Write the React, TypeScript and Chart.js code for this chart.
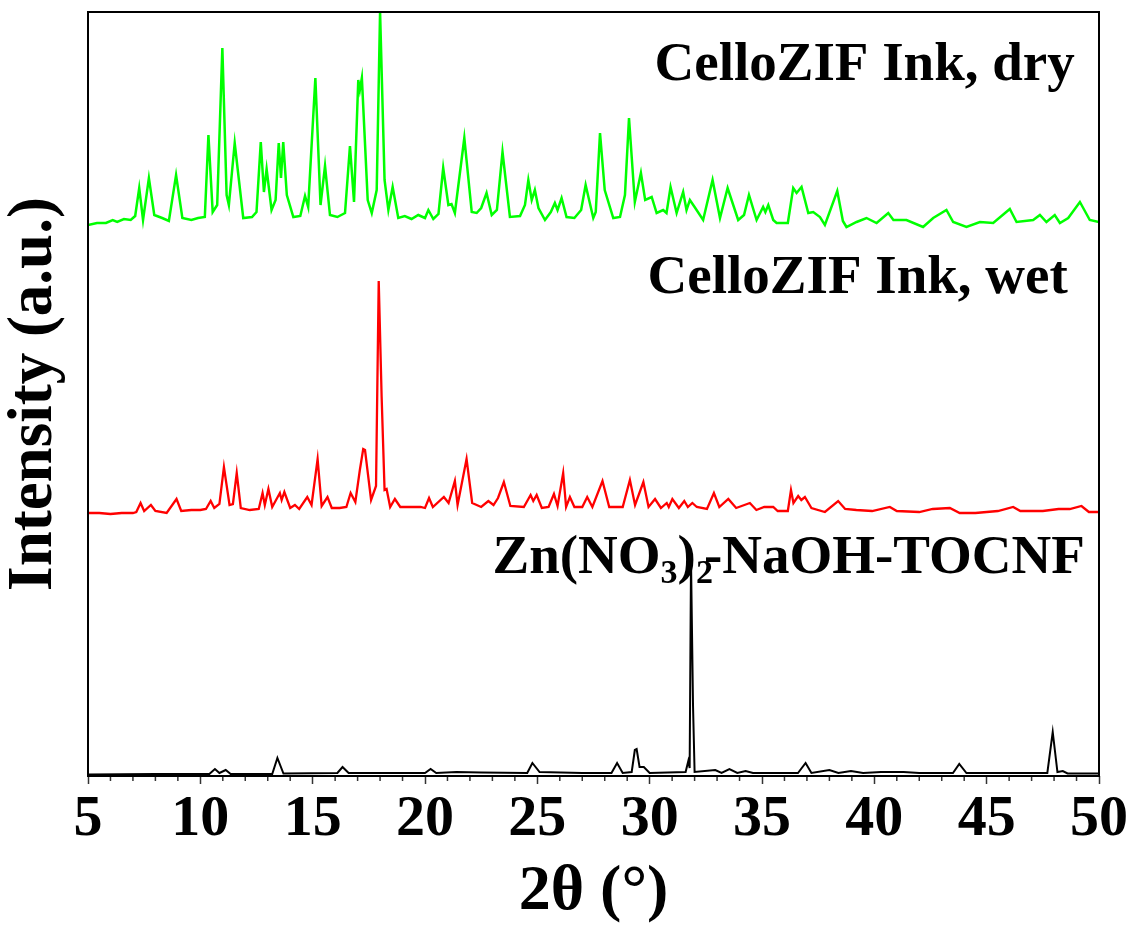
import React, { useEffect, useRef } from 'react';
import { Chart, registerables } from 'chart.js';

Chart.register(...registerables);

const FONT = "'Liberation Serif', 'Times New Roman', Times, serif";

// ---- axis ----
const X_MIN = 5;
const X_MAX = 50;
const X_MAJOR_TICKS = [5, 10, 15, 20, 25, 30, 35, 40, 45, 50];
const X_MINOR_TICKS = [6, 7, 8, 9, 11, 12, 13, 14, 16, 17, 18, 19, 21, 22, 23, 24, 26, 27, 28, 29, 31, 32, 33, 34, 36, 37, 38, 39, 41, 42, 43, 44, 46, 47, 48, 49];
const Y_MIN = 0;
const Y_MAX = 764;
const X_TITLE = '2θ (°)';
const Y_TITLE = 'Intensity (a.u.)';

// ---- series: CelloZIF Ink, dry (green) ----
const DRY_OFFSET = 540;
const DRY_2THETA = [5.0, 5.4, 5.8, 6.1, 6.3, 6.6, 6.9, 7.1, 7.28, 7.45,
  7.71, 7.95, 8.3, 8.6, 8.92, 9.2, 9.6, 9.9, 10.2, 10.36,
  10.55, 10.75, 10.98, 11.17, 11.27, 11.53, 11.91, 12.3, 12.5, 12.69,
  12.83, 12.95, 13.17, 13.35, 13.49, 13.59, 13.69, 13.85, 14.14, 14.45,
  14.66, 14.8, 15.12, 15.35, 15.55, 15.77, 16.1, 16.44, 16.66, 16.84,
  17.03, 17.1, 17.19, 17.45, 17.63, 17.85, 18.0, 18.2, 18.37, 18.56,
  18.81, 19.1, 19.4, 19.7, 20.0, 20.15, 20.37, 20.6, 20.81, 21.04,
  21.18, 21.33, 21.75, 22.08, 22.3, 22.5, 22.74, 22.97, 23.2, 23.45,
  23.78, 24.23, 24.45, 24.6, 24.75, 24.89, 25.05, 25.34, 25.6, 25.78,
  25.9, 26.08, 26.3, 26.65, 26.95, 27.15, 27.49, 27.6, 27.79, 28.0,
  28.38, 28.68, 28.9, 29.08, 29.34, 29.61, 29.8, 30.09, 30.31, 30.6,
  30.75, 30.93, 31.2, 31.49, 31.64, 31.79, 32.0, 32.38, 32.8, 33.13,
  33.47, 33.94, 34.2, 34.42, 34.76, 35.05, 35.15, 35.28, 35.5, 35.65,
  36.15, 36.39, 36.54, 36.76, 37.06, 37.28, 37.58, 37.8, 38.35, 38.6,
  38.76, 39.21, 39.65, 40.1, 40.62, 40.85, 41.43, 42.17, 42.62, 43.21,
  43.51, 44.1, 44.7, 45.29, 46.03, 46.33, 47.07, 47.37, 47.66, 48.03,
  48.26, 48.63, 49.15, 49.59, 50.0];
const DRY_INTENSITY = [11, 13, 13, 16, 14, 17, 16, 20, 48, 16,
  58, 21, 18, 15, 61, 18, 16, 18, 19, 101,
  24, 31, 188, 41, 31, 93, 18, 19, 24, 94,
  44, 67, 26, 36, 93, 58, 94, 41, 19, 20,
  40, 29, 158, 31, 70, 21, 19, 23, 90, 34,
  156, 146, 158, 36, 23, 46, 224, 56, 26, 49,
  18, 20, 17, 21, 18, 26, 17, 22, 68, 31,
  32, 23, 98, 24, 23, 28, 43, 21, 26, 84,
  19, 20, 31, 56, 36, 46, 28, 16, 24, 33,
  26, 38, 19, 18, 26, 51, 18, 24, 103, 46,
  18, 19, 41, 118, 34, 63, 36, 39, 23, 26,
  23, 49, 23, 44, 26, 36, 29, 16, 56, 18,
  48, 16, 21, 41, 16, 29, 24, 31, 16, 13,
  13, 48, 43, 49, 23, 24, 19, 11, 45, 15,
  9, 14, 18, 13, 23, 16, 16, 9, 18, 26,
  14, 9, 14, 13, 27, 14, 16, 21, 14, 21,
  13, 18, 34, 16, 14];

// ---- series: CelloZIF Ink, wet (red) ----
const WET_OFFSET = 250;
const WET_2THETA = [5.0, 5.5, 6.0, 6.5, 7.0, 7.15, 7.34, 7.5, 7.8, 8.0,
  8.5, 8.94, 9.15, 9.6, 10.0, 10.25, 10.46, 10.62, 10.85, 11.05,
  11.3, 11.45, 11.62, 11.8, 12.2, 12.6, 12.77, 12.87, 13.03, 13.2,
  13.54, 13.62, 13.74, 14.0, 14.21, 14.4, 14.76, 14.95, 15.22, 15.4,
  15.66, 15.85, 16.2, 16.5, 16.69, 16.9, 17.1, 17.25, 17.33, 17.6,
  17.82, 17.94, 18.07, 18.2, 18.29, 18.45, 18.66, 18.9, 19.3, 19.8,
  20.0, 20.18, 20.35, 20.84, 21.05, 21.33, 21.45, 21.85, 22.1, 22.5,
  22.82, 23.05, 23.25, 23.51, 23.8, 24.4, 24.7, 24.82, 24.97, 25.2,
  25.5, 25.74, 25.9, 26.15, 26.28, 26.45, 26.65, 27.0, 27.22, 27.45,
  27.9, 28.2, 28.8, 29.12, 29.35, 29.72, 29.95, 30.24, 30.5, 30.76,
  30.85, 31.01, 31.3, 31.54, 31.7, 31.9, 32.1, 32.55, 32.86, 33.1,
  33.5, 33.85, 34.46, 34.75, 35.1, 35.5, 35.7, 36.15, 36.29, 36.4,
  36.61, 36.75, 36.91, 37.2, 37.8, 38.39, 38.7, 39.2, 39.9, 40.69,
  41.0, 42.0, 42.6, 43.36, 43.8, 44.5, 45.5, 46.18, 46.5, 47.5,
  48.2, 48.7, 49.22, 49.55, 50.0];
const WET_INTENSITY = [13, 13, 12, 13, 13, 14, 23, 15, 21, 15,
  13, 27, 15, 16, 16, 17, 25, 18, 22, 59,
  21, 22, 53, 18, 16, 17, 33, 21, 37, 19,
  33, 26, 34, 18, 21, 17, 29, 21, 67, 20,
  29, 18, 18, 19, 33, 24, 56, 77, 76, 26,
  40, 245, 129, 36, 37, 19, 27, 19, 19, 19,
  18, 28, 19, 29, 23, 45, 21, 67, 23, 19,
  25, 21, 28, 44, 20, 19, 31, 25, 31, 18,
  19, 32, 20, 53, 19, 29, 19, 19, 29, 19,
  45, 19, 19, 46, 21, 44, 19, 27, 18, 23,
  19, 27, 18, 25, 19, 23, 19, 17, 33, 19,
  27, 18, 23, 16, 19, 19, 15, 15, 36, 23,
  30, 26, 29, 18, 14, 25, 17, 16, 15, 19,
  15, 14, 17, 18, 13, 13, 15, 19, 15, 15,
  17, 17, 20, 14, 14];

// ---- series: Zn(NO3)2-NaOH-TOCNF (black) ----
const ZN_OFFSET = 0;
const ZN_2THETA = [5.0, 8.0, 10.4, 10.65, 10.85, 11.13, 11.35, 13.2, 13.43, 13.7,
  16.1, 16.33, 16.6, 20.0, 20.25, 20.5, 21.4, 22.5, 24.55, 24.78,
  25.1, 27.0, 28.3, 28.55, 28.8, 29.2, 29.34, 29.42, 29.55, 29.74,
  30.0, 31.6, 31.72, 31.78, 31.84, 31.93, 32.0, 32.92, 33.2, 33.55,
  33.9, 34.27, 34.6, 36.6, 36.94, 37.2, 38.0, 38.4, 38.96, 39.5,
  40.3, 41.3, 42.0, 43.5, 43.78, 44.1, 46.0, 47.7, 47.94, 48.15,
  48.39, 48.6, 50.0];
const ZN_INTENSITY = [1.5, 2, 2, 7, 3, 6, 2, 2, 18, 2.5,
  3, 9, 3, 3, 7, 3, 4, 3.5, 3, 13,
  4, 3, 3, 13, 3, 4, 26, 27, 9, 9,
  3, 4, 15, 8, 216, 70, 4, 6, 3, 7,
  3, 5, 3, 3, 13, 3, 6, 3, 5, 3,
  4, 4, 3, 3, 12, 3, 3, 3, 44, 4,
  5, 2.5, 2.5];

// ---- in-plot labels ----
const DRY_LABEL = 'CelloZIF Ink, dry';
const WET_LABEL = 'CelloZIF Ink, wet';
const ZN_LABEL_PARTS = [
  { text: 'Zn(NO', sub: false },
  { text: '3', sub: true },
  { text: ')', sub: false },
  { text: '2', sub: true },
  { text: '-NaOH-TOCNF', sub: false },
];
// label anchors (right end, baseline) in data coordinates
const DRY_LABEL_AT = { x: 48.92, y: 696 };
const WET_LABEL_AT = { x: 48.61, y: 483 };
const ZN_LABEL_AT = { x: 49.37, y: 203 };

const toPoints = (xs: number[], ys: number[], offset: number) =>
  xs.map((x, i) => ({ x, y: ys[i] + offset }));

const LABEL_SIZE = 55;
const SUB_SIZE = 34;

const labelsPlugin = {
  id: 'seriesLabels',
  afterDatasetsDraw(chart: any) {
    const { ctx, scales } = chart;
    const xs = scales.x;
    const ys = scales.y;
    ctx.save();
    ctx.fillStyle = '#000';
    ctx.textBaseline = 'alphabetic';
    ctx.font = `bold ${LABEL_SIZE}px ${FONT}`;
    ctx.textAlign = 'right';
    ctx.fillText(DRY_LABEL, xs.getPixelForValue(DRY_LABEL_AT.x), ys.getPixelForValue(DRY_LABEL_AT.y));
    ctx.fillText(WET_LABEL, xs.getPixelForValue(WET_LABEL_AT.x), ys.getPixelForValue(WET_LABEL_AT.y));

    // Zn(NO3)2-NaOH-TOCNF with subscripts
    ctx.textAlign = 'left';
    const mainFont = `bold ${LABEL_SIZE}px ${FONT}`;
    const subFont = `bold ${SUB_SIZE}px ${FONT}`;
    const kern = (i: number) => (ZN_LABEL_PARTS[i].sub && i + 1 < ZN_LABEL_PARTS.length && ZN_LABEL_PARTS[i + 1].text.startsWith('-') ? -9 : 0);
    let total = 0;
    ZN_LABEL_PARTS.forEach((p, i) => {
      ctx.font = p.sub ? subFont : mainFont;
      total += ctx.measureText(p.text).width + kern(i);
    });
    let x = xs.getPixelForValue(ZN_LABEL_AT.x) - total;
    const base = ys.getPixelForValue(ZN_LABEL_AT.y);
    ZN_LABEL_PARTS.forEach((p, i) => {
      ctx.font = p.sub ? subFont : mainFont;
      ctx.fillText(p.text, x, p.sub ? base + 10 : base);
      x += ctx.measureText(p.text).width + kern(i);
    });
    ctx.restore();
  },
};

const framePlugin = {
  id: 'frameAndMinorTicks',
  afterDraw(chart: any) {
    const { ctx, chartArea, scales } = chart;
    const { left, right, top, bottom } = chartArea;
    ctx.save();
    ctx.strokeStyle = '#333';
    ctx.lineWidth = 1.5;
    for (const v of X_MINOR_TICKS) {
      const px = scales.x.getPixelForValue(v);
      ctx.beginPath();
      ctx.moveTo(px, bottom);
      ctx.lineTo(px, bottom + 5);
      ctx.stroke();
    }
    ctx.strokeStyle = '#000';
    ctx.lineWidth = 2;
    ctx.strokeRect(left, top, right - left, bottom - top);
    ctx.restore();
  },
};

export default function App() {
  const ref = useRef<HTMLCanvasElement>(null);

  useEffect(() => {
    if (!ref.current) return;
    const chart = new Chart(ref.current, {
      type: 'line',
      data: {
        datasets: [
          {
            label: DRY_LABEL,
            data: toPoints(DRY_2THETA, DRY_INTENSITY, DRY_OFFSET),
            borderColor: '#00ff00',
            borderWidth: 2.5,
            pointRadius: 0,
            tension: 0,
            fill: false,
          },
          {
            label: WET_LABEL,
            data: toPoints(WET_2THETA, WET_INTENSITY, WET_OFFSET),
            borderColor: '#ff0000',
            borderWidth: 2.3,
            pointRadius: 0,
            tension: 0,
            fill: false,
          },
          {
            label: ZN_LABEL_PARTS.map((p) => p.text).join(''),
            data: toPoints(ZN_2THETA, ZN_INTENSITY, ZN_OFFSET),
            borderColor: '#000000',
            borderWidth: 2,
            pointRadius: 0,
            tension: 0,
            fill: false,
          },
        ],
      },
      options: {
        animation: false,
        responsive: false,
        devicePixelRatio: 1,
        maintainAspectRatio: false,
        layout: { padding: { top: 12, right: 33, left: 0, bottom: 0 } },
        plugins: {
          legend: { display: false },
          tooltip: { enabled: false },
        },
        scales: {
          x: {
            type: 'linear',
            position: 'bottom',
            min: X_MIN,
            max: X_MAX,
            afterBuildTicks: (scale: any) => {
              scale.ticks = X_MAJOR_TICKS.map((v) => ({ value: v }));
            },
            afterFit: (scale: any) => {
              scale.height = 151;
            },
            ticks: {
              autoSkip: false,
              maxRotation: 0,
              padding: 1,
              color: '#000',
              font: { family: FONT, size: 58, weight: 'bold' },
            },
            grid: {
              drawOnChartArea: false,
              drawTicks: true,
              tickLength: 8,
              tickColor: '#333',
              tickWidth: 1.5,
            },
            border: { display: false },
            title: {
              display: true,
              text: X_TITLE,
              color: '#000',
              font: { family: FONT, size: 64, weight: 'bold', lineHeight: 1 },
              padding: { top: 0, bottom: 3 },
            },
          },
          y: {
            type: 'linear',
            min: Y_MIN,
            max: Y_MAX,
            afterFit: (scale: any) => {
              scale.width = 88;
            },
            ticks: { display: false },
            grid: { display: false },
            border: { display: false },
            title: {
              display: true,
              text: Y_TITLE,
              color: '#000',
              font: { family: FONT, size: 63, weight: 'bold', lineHeight: 1 },
              padding: { top: 3, bottom: 0 },
            },
          },
        },
      },
      plugins: [labelsPlugin, framePlugin],
    } as any);
    return () => chart.destroy();
  }, []);

  return (
    <div style={{ position: 'fixed', left: 0, top: 0, width: 1132, height: 927, background: '#fff' }}>
      <canvas ref={ref} width={1132} height={927} style={{ display: 'block', width: 1132, height: 927 }} />
    </div>
  );
}
